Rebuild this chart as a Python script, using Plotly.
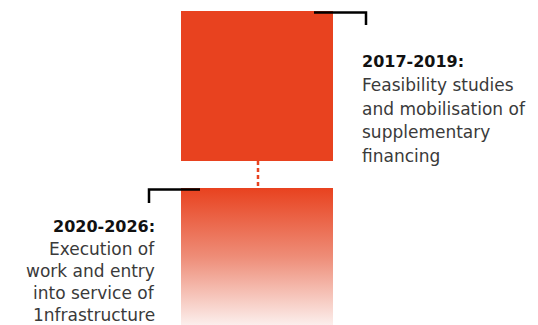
import plotly.graph_objects as go

# Timeline phases
phases = ["2017-2019:", "2020-2026:"]
descriptions = [
    ["Feasibility studies", "and mobilisation of", "supplementary", "financing"],
    ["Execution of", "work and entry", "into service of", "1nfrastructure"],
]

RED = "#E8421F"
TEXT = "#3a3a3a"
FONT = "DejaVu Sans"

# block geometry in page pixels (axes map 1:1 to the page, body has 8px margin)
X0, X1 = 181, 333
TOP_Y = (11, 161)
BOT_Y = (188, 326)

fig = go.Figure()

# upper phase: solid block
fig.add_trace(go.Scatter(
    x=[X0, X1, X1, X0, X0], y=[TOP_Y[0], TOP_Y[0], TOP_Y[1], TOP_Y[1], TOP_Y[0]],
    mode="lines", fill="toself", fillcolor=RED, line=dict(width=0),
    hoverinfo="skip", showlegend=False,
))

# lower phase: fading block
fig.add_trace(go.Scatter(
    x=[X0, X1, X1, X0, X0], y=[BOT_Y[0], BOT_Y[0], BOT_Y[1], BOT_Y[1], BOT_Y[0]],
    mode="lines", fill="toself", line=dict(width=0),
    fillgradient=dict(
        type="vertical", start=BOT_Y[0], stop=BOT_Y[1],
        colorscale=[[0, RED], [0.5, "#EE8D78"], [1, "#FCF0EE"]],
    ),
    hoverinfo="skip", showlegend=False,
))

# dotted connector
fig.add_trace(go.Scatter(
    x=[258, 258], y=[TOP_Y[1], BOT_Y[0]], mode="lines",
    line=dict(color=RED, width=2.5, dash="4px,3px"),
    hoverinfo="skip", showlegend=False,
))

# brackets
fig.add_trace(go.Scatter(
    x=[314, 366, 366], y=[12.5, 12.5, 25], mode="lines",
    line=dict(color="black", width=2.5), hoverinfo="skip", showlegend=False,
))
fig.add_trace(go.Scatter(
    x=[200, 149, 149], y=[189.5, 189.5, 203], mode="lines",
    line=dict(color="black", width=2.5), hoverinfo="skip", showlegend=False,
))


def add_block(i, x, anchor, first_base, pitch):
    lines = [phases[i]] + descriptions[i]
    for k, line in enumerate(lines):
        bold = k == 0
        fig.add_annotation(
            x=x, y=first_base + k * pitch - 6.5, xanchor=anchor, yanchor="middle",
            text=f"<b>{line}</b>" if bold else line, showarrow=False,
            font=dict(family=FONT, size=16 if bold else 17,
                      color="#111" if bold else TEXT),
        )


add_block(0, 360, "left", 68, 23.5)
add_block(1, 157, "right", 233, 22)

fig.update_layout(
    width=538, height=325,
    margin=dict(l=0, r=0, t=0, b=0),
    plot_bgcolor="white", paper_bgcolor="white",
    xaxis=dict(range=[8, 546], visible=False, fixedrange=True),
    yaxis=dict(range=[333, 8], visible=False, fixedrange=True),
)

fig.write_html("out.html")
